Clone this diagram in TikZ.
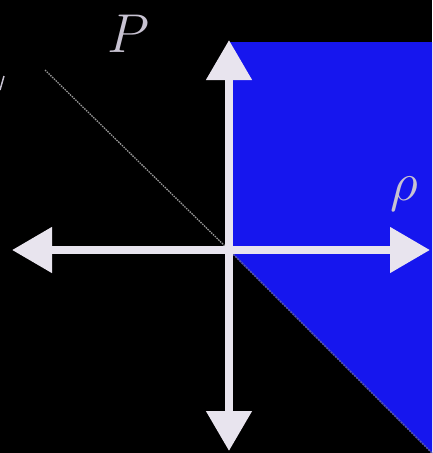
\documentclass[tikz,border=0pt]{standalone}
\usetikzlibrary{arrows.meta}
\definecolor{bgblue}{RGB}{22,22,238}
\definecolor{axisw}{RGB}{232,228,238}
\definecolor{labelg}{RGB}{200,195,210}
\begin{document}
\begin{tikzpicture}[x=1pt,y=-1pt,
  axis/.style={line width=8pt,draw=axisw,-{Triangle[width=44pt,length=40pt]},shorten >=0pt},
  lab/.style={text=labelg,font=\Huge,scale=2.2,inner sep=0pt}]
\fill[black] (0,0) rectangle (432,453);
\useasboundingbox (0,0) rectangle (432,453);
\coordinate (O) at (229,250);
\coordinate (T) at (229,40);
\coordinate (B) at (229,451);
\coordinate (L) at (12,250);
\coordinate (R) at (430,250);
\coordinate (D1) at (45,70);
\coordinate (D2) at (432,453);
\coordinate (E1) at (4,76);
\coordinate (E2) at (0,90);
\fill[bgblue] (O) -- (229,42) -- (432,42) -- (D2) -- cycle;
\draw[gray!80,line width=1.3pt,dash pattern=on 1.5pt off 1pt] (D1) -- (O);
\draw[gray!60!bgblue,line width=1.5pt,dash pattern=on 2pt off 1pt] (O) -- (D2);
\draw[labelg,line width=1.5pt] (E1) -- (E2);
\draw[axis] (O) -- (T);
\draw[axis] (O) -- (B);
\draw[axis] (O) -- (L);
\draw[axis] (O) -- (R);
\node[lab] (P) at (128,34) {$P$};
\node[lab] (rho) at (404,194) {$\rho$};
\end{tikzpicture}
\end{document}
